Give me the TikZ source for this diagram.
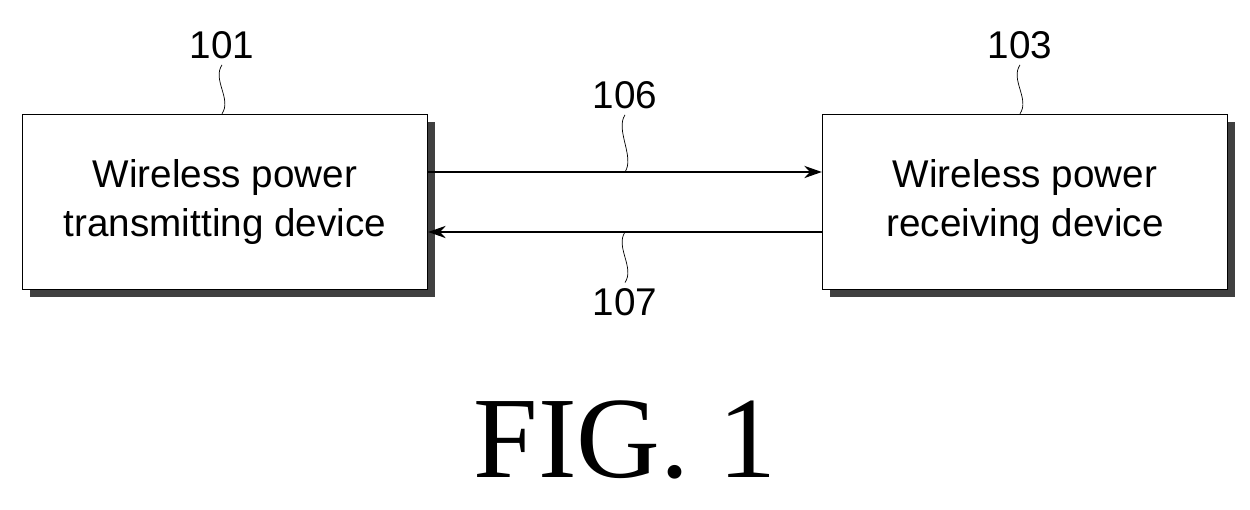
\documentclass[tikz,border=0pt]{standalone}
\usepackage{fontspec}
\setmainfont{Liberation Serif}
\setsansfont{Liberation Sans}
\usetikzlibrary{shadows,arrows.meta}
\begin{document}
\begin{tikzpicture}[x=1cm, y=1cm,
                    device/.style={draw, thick, fill=white, minimum width=8.1cm, minimum height=3.5cm,
                        align=center, font=\sffamily\fontsize{22}{28}\selectfont,
                        drop shadow={shadow xshift=4pt, shadow yshift=-4pt, fill=black!75, opacity=1}},
                    refnum/.style={font=\sffamily\fontsize{22}{26}\selectfont},
                    leader/.style={thin},
                    link/.style={thick, -{Stealth[length=10pt, width=7pt]}}]
    \useasboundingbox (0,0) rectangle (25,10.2);
    \node[device](tx) at (4.5,6.16) {Wireless power\\transmitting device};
    \node[device](rx) at (20.5,6.16) {Wireless power\\receiving device};

    \node[refnum](n101) at (4.44,9.3) {101};
    \node[refnum](n103) at (20.4,9.3) {103};
    \node[refnum](n106) at (12.5,8.3) {106};
    \node[refnum](n107) at (12.5,4.15) {107};

    % arrows between the boxes
    \coordinate (a1) at ([yshift=0.6cm]tx.east);
    \coordinate (a2) at ([yshift=-0.6cm]rx.west);
    \draw[link] (a1) -- (a1 -| rx.west);
    \draw[link] (a2) -- (a2 -| tx.east);

    % leaders
    \draw[leader] (n101.south) .. controls +(-0.2,-0.3) and +(0.2,0.3) .. (n101.south |- tx.north);
    \draw[leader] (n103.south) .. controls +(-0.2,-0.3) and +(0.2,0.3) .. (n103.south |- rx.north);
    \draw[leader] (n106.south) .. controls +(-0.2,-0.3) and +(0.2,0.3) .. (n106.south |- a1);
    \draw[leader] (n107.north |- a2) .. controls +(-0.2,-0.3) and +(0.2,0.3) .. (n107.north);

    \node[font=\fontsize{66}{70}\selectfont](fig) at (12.5,1.4) {FIG. 1};
\end{tikzpicture}
\end{document}
